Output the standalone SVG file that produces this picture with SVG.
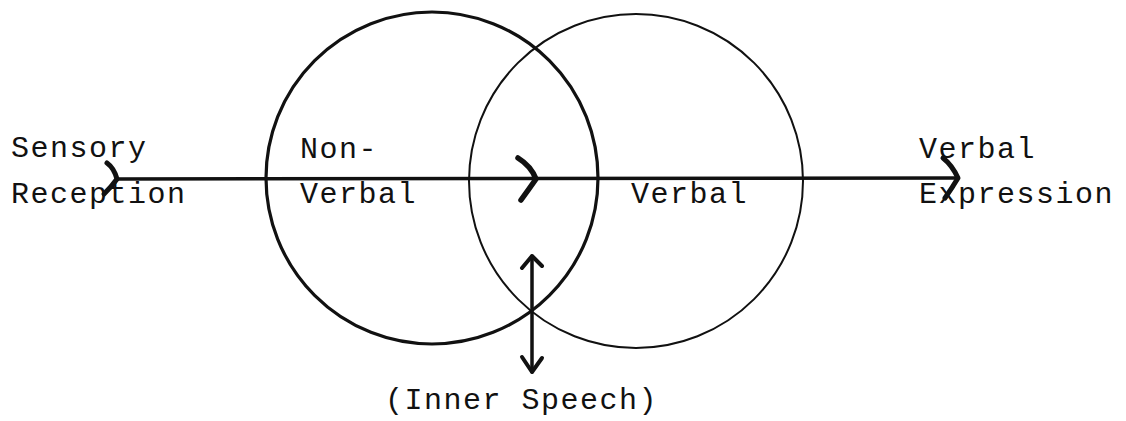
<svg xmlns="http://www.w3.org/2000/svg" width="1126" height="421" viewBox="0 0 1126 421">
<style>
.t{font-family:"Liberation Mono","Courier New",monospace;font-size:30px;letter-spacing:1.5px;fill:#111}
.ln{stroke:#111;fill:none;stroke-linecap:round;stroke-linejoin:round}
</style>
<rect width="1126" height="421" fill="#fff"/>
<g id="nonverbal">
<circle cx="432" cy="178" r="166" class="ln" stroke-width="3.2"/>
<text class="t" x="300" y="158">Non-</text>
<text class="t" x="300" y="203">Verbal</text>
</g>
<g id="verbal">
<circle cx="636" cy="181" r="167" class="ln" stroke-width="2"/>
<text class="t" x="631" y="203">Verbal</text>
</g>
<g id="sensory">
<text class="t" x="11" y="157">Sensory</text>
<text class="t" x="11" y="203">Reception</text>
</g>
<g id="expression">
<text class="t" x="919" y="158">Verbal</text>
<text class="t" x="919" y="203">Expression</text>
</g>
<g id="inner">
<text class="t" x="385" y="409">(Inner Speech)</text>
</g>
<g id="connectors">
<line x1="116" y1="179" x2="958" y2="178" class="ln" stroke-width="3.5"/>
<path d="M107,163 Q114,168 117,179 Q112,186 104,194" class="ln" stroke-width="5"/>
<path d="M518,158 Q531,166 536,179 Q529,189 521,200" class="ln" stroke-width="5.5"/>
<path d="M943,158 Q952,165 958,178 Q952,188 945,198" class="ln" stroke-width="5"/>
<line x1="532" y1="256" x2="532" y2="372" class="ln" stroke-width="3.5"/>
<path d="M522,268 L532,256 L542,266" class="ln" stroke-width="4"/>
<path d="M522,357 L532,372 L542,358" class="ln" stroke-width="4"/>
</g>
</svg>
